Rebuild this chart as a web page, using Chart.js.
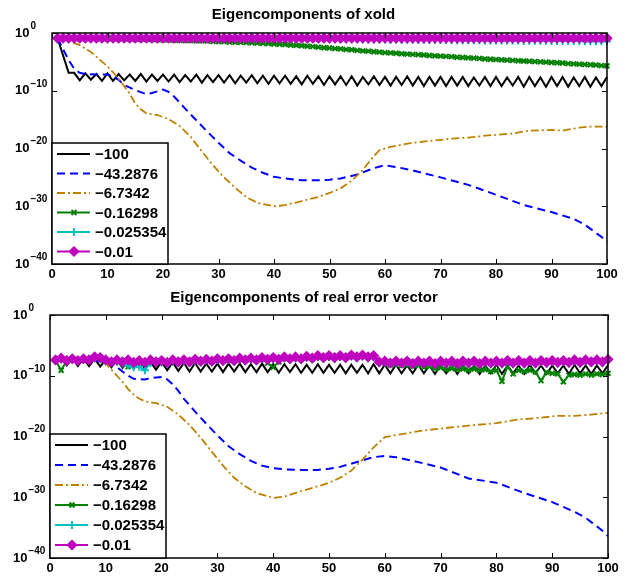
<!DOCTYPE html>
<html>
<head>
<meta charset="utf-8">
<script src="https://cdn.jsdelivr.net/npm/chart.js@4.4.0/dist/chart.umd.min.js"></script>
<style>
  html, body { margin: 0; padding: 0; background: #fff; }
  .panel { position: relative; width: 630px; height: 289px; }
</style>
</head>
<body>
<div class="panel"><canvas id="topChart"></canvas></div>
<div class="panel"><canvas id="bottomChart"></canvas></div>
<script>
// Legend labels (eigenvalues)
const seriesLabels = ['\u2212100', '\u221243.2876', '\u22126.7342', '\u22120.16298', '\u22120.025354', '\u22120.01'];

// Axis ticks
const xTickValues = [0, 10, 20, 30, 40, 50, 60, 70, 80, 90, 100];
const yTickValues = [1e-40, 1e-30, 1e-20, 1e-10, 1e0];
const yTickExponents = ['\u221240', '\u221230', '\u221220', '\u221210', '0'];

// ---- Top panel: eigencomponents of xold (log10 of the magnitude) ----
const topBlack = [
  -0.9, -3.9, -6.9, -6.9, -8.2, -7.0, -8.1, -7.1, -8.3, -7.0,
  -8.3, -7.1, -8.2, -7.2, -8.3, -7.1, -8.4, -7.2, -8.3, -7.2,
  -8.4, -7.2, -8.5, -7.3, -8.4, -7.2, -8.6, -7.3, -8.5, -7.3,
  -8.6, -7.3, -8.7, -7.4, -8.6, -7.3, -8.7, -7.4, -8.8, -7.4,
  -8.7, -7.4, -8.8, -7.5, -8.9, -7.4, -8.8, -7.5, -9.0, -7.5,
  -8.9, -7.5, -9.0, -7.5, -9.1, -7.6, -8.9, -7.5, -9.0, -7.6,
  -9.1, -7.6, -9.0, -7.5, -9.1, -7.6, -9.2, -7.6, -9.1, -7.6,
  -9.2, -7.6, -9.1, -7.6, -9.2, -7.7, -9.1, -7.6, -9.2, -7.6,
  -9.2, -7.7, -9.1, -7.6, -9.3, -7.6, -9.2, -7.7, -9.3, -7.6,
  -9.2, -7.6, -9.3, -7.7, -9.2, -7.6, -9.3, -7.7, -9.2, -7.6
];
const topBlueX = [1, 2, 3, 4, 5, 6, 8, 10, 11, 12, 13, 15, 17, 18, 20, 21, 22, 24, 26, 28, 30, 32, 34, 36, 38, 40,
  42, 45, 48, 50, 52, 55, 58, 60, 62, 65, 70, 75, 80, 85, 90, 94, 96, 98, 99, 100];
const topBlue = [-0.9, -2.8, -4.7, -6.2, -6.9, -7.1, -7.2, -7.2, -7.5, -8.1, -9.0, -9.9, -10.6, -10.4, -9.8, -10.2,
  -11.0, -13.1, -15.1, -17.1, -19.0, -20.8, -22.1, -23.3, -24.2, -24.9, -25.2, -25.5, -25.5, -25.4, -25.2, -24.5,
  -23.4, -22.9, -23.2, -23.8, -25.0, -26.3, -28.0, -29.8, -31.0, -32.2, -33.2, -34.6, -35.3, -36.2];
const topGoldX = [1, 3, 5, 7, 8, 10, 11, 12, 13, 14, 15, 16, 17, 19, 21, 23, 25, 27, 29, 31, 33, 35, 37, 40, 42, 45,
  48, 50, 52, 54, 56, 58, 59, 61, 65, 68, 72, 75, 79, 83, 86, 90, 92, 95, 97, 100];
const topGold = [-0.9, -1.4, -2.1, -3.3, -4.1, -5.8, -6.8, -7.9, -9.2, -10.5, -12.2, -13.2, -13.9, -14.2, -14.9,
  -16.1, -18.0, -20.5, -22.9, -25.0, -26.8, -28.4, -29.4, -30.0, -29.8, -29.1, -28.4, -27.7, -26.9, -25.6, -23.7,
  -21.3, -20.3, -19.7, -19.0, -18.7, -18.3, -18.1, -17.7, -17.4, -16.9, -16.8, -16.9, -16.4, -16.2, -16.2];
const topGreen = [
  -0.9, -0.9, -0.9, -0.9, -0.95, -0.95, -0.95, -1.0, -1.0, -1.0,
  -1.0, -1.05, -1.05, -1.05, -1.1, -1.1, -1.1, -1.15, -1.15, -1.2,
  -1.2, -1.25, -1.25, -1.3, -1.3, -1.35, -1.35, -1.4, -1.45, -1.5,
  -1.5, -1.55, -1.6, -1.6, -1.65, -1.7, -1.75, -1.8, -1.85, -1.9,
  -1.95, -2.0, -2.1, -2.15, -2.2, -2.3, -2.35, -2.45, -2.55, -2.6,
  -2.7, -2.75, -2.85, -2.9, -3.0, -3.1, -3.15, -3.25, -3.3, -3.4,
  -3.45, -3.5, -3.6, -3.65, -3.7, -3.75, -3.8, -3.9, -3.95, -4.0,
  -4.05, -4.1, -4.2, -4.25, -4.3, -4.35, -4.4, -4.5, -4.55, -4.6,
  -4.65, -4.7, -4.75, -4.8, -4.85, -4.9, -4.95, -5.0, -5.05, -5.1,
  -5.15, -5.2, -5.3, -5.35, -5.4, -5.45, -5.5, -5.55, -5.65, -5.7
];
const topCyan = [
  -0.9, -0.9, -0.9, -0.9, -0.9, -0.9, -0.9, -0.9, -0.9, -0.9,
  -0.9, -0.9, -0.9, -0.9, -0.9, -0.9, -0.9, -0.9, -0.9, -0.9,
  -0.9, -0.9, -0.9, -0.92, -0.92, -0.92, -0.93, -0.93, -0.94, -0.94,
  -0.95, -0.95, -0.96, -0.96, -0.97, -0.97, -0.98, -0.98, -0.99, -1.0,
  -1.0, -1.01, -1.02, -1.02, -1.03, -1.04, -1.05, -1.05, -1.06, -1.07,
  -1.08, -1.08, -1.09, -1.1, -1.1, -1.11, -1.12, -1.13, -1.13, -1.14,
  -1.15, -1.16, -1.16, -1.17, -1.18, -1.19, -1.19, -1.2, -1.21, -1.22,
  -1.22, -1.23, -1.24, -1.25, -1.25, -1.26, -1.27, -1.28, -1.28, -1.29,
  -1.3, -1.31, -1.31, -1.32, -1.33, -1.34, -1.34, -1.35, -1.36, -1.37,
  -1.37, -1.38, -1.39, -1.4, -1.4, -1.41, -1.42, -1.43, -1.43, -1.44
];
const topMagenta = [
  -0.9, -0.9, -0.9, -0.9, -0.9, -0.9, -0.9, -0.9, -0.9, -0.9,
  -0.9, -0.9, -0.9, -0.9, -0.9, -0.9, -0.9, -0.9, -0.9, -0.9,
  -0.9, -0.9, -0.9, -0.9, -0.9, -0.9, -0.9, -0.9, -0.9, -0.9,
  -0.9, -0.9, -0.9, -0.9, -0.9, -0.9, -0.9, -0.9, -0.9, -0.9,
  -0.9, -0.9, -0.9, -0.9, -0.9, -0.9, -0.9, -0.9, -0.9, -0.9,
  -0.9, -0.9, -0.9, -0.9, -0.9, -0.9, -0.9, -0.9, -0.9, -0.9,
  -0.9, -0.9, -0.9, -0.9, -0.9, -0.9, -0.9, -0.9, -0.9, -0.9,
  -0.9, -0.9, -0.9, -0.9, -0.9, -0.9, -0.9, -0.9, -0.9, -0.9,
  -0.9, -0.9, -0.9, -0.9, -0.9, -0.9, -0.9, -0.9, -0.9, -0.9,
  -0.9, -0.9, -0.9, -0.9, -0.9, -0.9, -0.9, -0.9, -0.9, -0.9
];

// ---- Bottom panel: eigencomponents of real error vector ----
const botBlack = [
  -7.3, -7.1, -8.3, -7.1, -8.4, -7.2, -8.4, -7.2, -8.5, -7.3,
  -8.6, -7.4, -8.7, -7.5, -8.8, -7.6, -8.9, -7.7, -9.0, -7.7,
  -9.1, -7.8, -9.2, -7.9, -9.3, -7.9, -9.3, -8.0, -9.3, -8.0,
  -9.4, -8.0, -9.3, -8.0, -9.4, -8.1, -9.4, -8.0, -9.4, -8.1,
  -9.5, -8.1, -9.4, -8.1, -9.5, -8.2, -9.5, -8.1, -9.5, -8.2,
  -9.5, -8.2, -9.6, -8.2, -9.5, -8.2, -9.6, -8.1, -9.6, -8.2,
  -9.6, -8.2, -9.6, -8.3, -9.6, -8.2, -9.6, -8.3, -9.7, -8.2,
  -9.6, -8.3, -9.7, -8.2, -9.6, -8.3, -9.7, -8.3, -9.6, -8.2,
  -9.7, -8.3, -9.6, -8.3, -9.7, -8.2, -9.6, -8.3, -9.7, -8.3,
  -9.6, -8.3, -9.7, -8.2, -9.6, -8.3, -9.7, -8.3, -9.6, -8.3
];
const botBlueX = [1, 3, 5, 7, 9, 11, 12, 13, 14, 15, 17, 18, 20, 21, 22, 23, 24, 26, 28, 30, 32, 34, 36, 38, 40, 42,
  45, 48, 50, 52, 55, 58, 60, 62, 65, 70, 75, 80, 85, 90, 94, 96, 98, 99, 100];
const botBlue = [-6.9, -7.2, -7.4, -7.5, -7.6, -7.8, -8.6, -9.3, -10.0, -10.5, -10.6, -10.4, -10.2, -10.6, -11.4,
  -12.5, -13.8, -15.9, -17.9, -19.8, -21.6, -22.9, -24.0, -24.8, -25.2, -25.4, -25.5, -25.5, -25.3, -25.0, -24.2,
  -23.4, -23.2, -23.4, -24.0, -25.1, -26.9, -27.6, -29.3, -30.8, -32.4, -33.4, -34.8, -35.5, -36.4];
const botGoldX = [1, 5, 9, 10, 11, 12, 13, 14, 15, 16, 17, 19, 21, 23, 25, 27, 29, 31, 33, 35, 37, 40, 42, 45, 48,
  50, 52, 54, 56, 58, 60, 63, 67, 70, 75, 80, 84, 87, 91, 94, 97, 100];
const botGold = [-7.4, -7.5, -7.6, -8.0, -9.0, -10.0, -11.0, -12.2, -13.1, -13.8, -14.2, -14.5, -15.1, -16.4, -18.1,
  -20.2, -22.5, -24.8, -26.8, -28.2, -29.3, -30.1, -29.9, -29.0, -28.2, -27.6, -26.8, -25.6, -23.8, -21.8, -20.1,
  -19.6, -19.0, -18.7, -18.2, -17.8, -17.2, -17.0, -16.6, -16.6, -16.4, -16.1];
const botGreen = [
  -7.5, -9.1, -7.5, -7.3, -7.6, -7.3, -7.5, -7.0, -7.1, -7.5,
  -7.8, -7.6, -8.0, -8.5, -8.0, -7.6, -7.9, -7.5, -7.8, -7.6,
  -7.9, -7.5, -7.8, -7.5, -7.8, -7.4, -7.7, -7.4, -7.7, -7.3,
  -7.6, -7.3, -7.6, -7.2, -7.5, -7.2, -7.5, -7.3, -7.9, -8.6,
  -7.7, -7.1, -7.3, -7.0, -7.3, -6.9, -7.2, -6.8, -7.1, -6.8,
  -7.1, -6.8, -7.1, -6.7, -7.0, -6.7, -7.0, -6.8, -7.8, -7.9,
  -8.2, -8.0, -8.3, -8.1, -8.4, -8.3, -8.6, -8.5, -8.8, -8.7,
  -9.0, -8.8, -9.0, -8.9, -9.1, -8.9, -9.1, -9.0, -9.3, -9.1,
  -10.9, -8.5, -9.7, -9.1, -9.3, -9.1, -9.4, -10.8, -9.4, -9.6,
  -9.7, -11.0, -9.9, -9.8, -9.9, -9.7, -9.9, -9.7, -9.8, -9.6
];
const botCyan = [
  -7.5, -7.3, -7.6, -7.3, -7.6, -7.3, -7.5, -7.1, -7.2, -7.5,
  -7.9, -7.7, -8.0, -8.3, -8.6, -8.5, -9.1, -7.9, -7.9, -7.8,
  -8.0, -7.7, -7.9, -7.6, -7.9, -7.5, -7.8, -7.5, -7.8, -7.4,
  -7.7, -7.4, -7.7, -7.3, -7.6, -7.3, -7.6, -7.2, -7.5, -7.2,
  -7.5, -7.1, -7.4, -7.1, -7.4, -7.0, -7.3, -6.9, -7.2, -6.9,
  -7.2, -6.9, -7.2, -6.8, -7.1, -6.8, -7.1, -6.9, -7.9, -7.8,
  -8.1, -7.8, -8.1, -7.8, -8.2, -7.8, -8.1, -7.8, -8.2, -7.8,
  -8.1, -7.8, -8.2, -7.8, -8.1, -7.8, -8.2, -7.8, -8.1, -7.8,
  -8.1, -7.7, -8.1, -7.7, -8.1, -7.7, -8.1, -7.7, -8.0, -7.7,
  -8.0, -7.7, -8.0, -7.6, -8.0, -7.6, -7.9, -7.6, -7.9, -7.5
];
const botMagenta = [
  -7.4, -7.1, -7.5, -7.2, -7.5, -7.2, -7.4, -6.9, -7.0, -7.4,
  -7.7, -7.4, -7.7, -7.4, -7.8, -7.5, -7.8, -7.4, -7.7, -7.5,
  -7.8, -7.4, -7.7, -7.4, -7.7, -7.3, -7.6, -7.3, -7.6, -7.2,
  -7.5, -7.2, -7.5, -7.1, -7.4, -7.1, -7.4, -7.0, -7.3, -7.0,
  -7.3, -6.9, -7.2, -6.9, -7.2, -6.8, -7.1, -6.7, -7.0, -6.7,
  -7.0, -6.7, -7.0, -6.6, -6.9, -6.6, -6.9, -6.7, -7.7, -7.6,
  -7.9, -7.6, -7.9, -7.6, -8.0, -7.6, -7.9, -7.6, -8.0, -7.6,
  -7.9, -7.6, -8.0, -7.6, -7.9, -7.6, -8.0, -7.6, -7.9, -7.6,
  -7.9, -7.5, -7.9, -7.5, -7.9, -7.5, -7.9, -7.5, -7.8, -7.5,
  -7.8, -7.5, -7.8, -7.4, -7.8, -7.4, -7.7, -7.4, -7.7, -7.3
];

// Line / marker styles, one per series (same order as seriesLabels)
const SERIES_STYLES = [
  { color: '#000000', dash: [], width: 2, pointStyle: false, radius: 0 },
  { color: '#0000ff', dash: [8, 5], width: 2, pointStyle: false, radius: 0 },
  { color: '#bf8000', dash: [8, 3, 2, 3], width: 1.8, pointStyle: false, radius: 0 },
  { color: '#008000', dash: [], width: 2, pointStyle: 'crossRot', radius: 3.5 },
  { color: '#00bfbf', dash: [], width: 2, pointStyle: 'cross', radius: 4 },
  { color: '#bf00bf', dash: [], width: 2, pointStyle: 'rectRot', radius: 4.2 }
];

const FONT = 'Liberation Sans, Arial, Helvetica, sans-serif';

// Convert exponent lists to {x, y} points
function fromExponents(exps) {
  return exps.map((e, i) => ({ x: i + 1, y: Math.pow(10, e) }));
}
function fromPairs(xs, exps) {
  return xs.map((x, i) => ({ x: x, y: Math.pow(10, exps[i]) }));
}

function buildDatasets(seriesData) {
  return seriesData.map((data, i) => {
    const s = SERIES_STYLES[i];
    return {
      label: seriesLabels[i],
      data: data,
      borderColor: s.color,
      backgroundColor: s.color,
      borderWidth: s.width,
      borderDash: s.dash,
      pointStyle: s.pointStyle,
      pointRadius: s.radius,
      pointBorderWidth: 2,
      pointBorderColor: s.color,
      pointBackgroundColor: s.color,
      tension: 0,
      clip: false,
      order: seriesData.length - 1 - i // later series drawn on top, as in MATLAB
    };
  });
}

// Draws the MATLAB-style box, inward ticks, 10^n labels and the legend
const matlabAxesPlugin = {
  id: 'matlabAxes',
  afterDatasetsDraw(chart, args, opts) {
    const { ctx, chartArea: a, scales } = chart;
    const xs = scales.x, ys = scales.y;
    ctx.save();
    ctx.setLineDash([]);
    ctx.strokeStyle = '#000';

    // axis box
    ctx.lineWidth = 1.5;
    ctx.strokeRect(a.left, a.top, a.right - a.left, a.bottom - a.top);

    // inward tick marks
    ctx.lineWidth = 1;
    ctx.beginPath();
    xTickValues.forEach(v => {
      const px = Math.round(xs.getPixelForValue(v)) + 0.5;
      ctx.moveTo(px, a.bottom); ctx.lineTo(px, a.bottom - 5);
      ctx.moveTo(px, a.top); ctx.lineTo(px, a.top + 5);
    });
    yTickValues.forEach(v => {
      const py = Math.round(ys.getPixelForValue(v)) + 0.5;
      ctx.moveTo(a.left, py); ctx.lineTo(a.left + 5, py);
      ctx.moveTo(a.right, py); ctx.lineTo(a.right - 5, py);
    });
    ctx.stroke();

    // y tick labels: 10 with superscript exponent
    ctx.fillStyle = '#000';
    ctx.textAlign = 'left';
    ctx.textBaseline = 'middle';
    yTickValues.forEach((v, i) => {
      const py = ys.getPixelForValue(v);
      const lx = a.left - opts.labelOffset;
      ctx.font = 'bold 13px ' + FONT;
      ctx.fillText('10', lx, py);
      const w = ctx.measureText('10').width;
      ctx.font = 'bold 10px ' + FONT;
      ctx.fillText(yTickExponents[i], lx + w + 1, py - 7);
    });

    // legend box in lower-left corner
    const n = chart.data.datasets.length;
    const boxH = n * opts.rowH + 4;
    const x0 = a.left, y0 = a.bottom - boxH;
    ctx.fillStyle = '#fff';
    ctx.fillRect(x0, y0, opts.legendW, boxH);
    ctx.lineWidth = 1.5;
    ctx.strokeRect(x0, y0, opts.legendW, boxH);

    chart.data.datasets.forEach((ds, i) => {
      const ry = y0 + 11 + i * opts.rowH;
      const s = SERIES_STYLES[i];
      ctx.strokeStyle = s.color;
      ctx.fillStyle = s.color;
      ctx.lineWidth = s.width;
      ctx.setLineDash(s.dash);
      ctx.beginPath();
      ctx.moveTo(x0 + 5, ry);
      ctx.lineTo(x0 + 38, ry);
      ctx.stroke();
      ctx.setLineDash([]);
      if (s.pointStyle) {
        ctx.lineWidth = 2;
        Chart.helpers.drawPoint(ctx, { pointStyle: s.pointStyle, rotation: 0, radius: s.radius, borderWidth: 2 }, x0 + 22, ry);
      }
      ctx.fillStyle = '#000';
      ctx.font = 'bold 15px ' + FONT;
      ctx.textBaseline = 'middle';
      ctx.fillText(ds.label, x0 + 43, ry + 1);
    });
    ctx.restore();
  }
};

function makeChart(canvasId, title, seriesData, cfg) {
  const ctx = document.getElementById(canvasId).getContext('2d');
  return new Chart(ctx, {
    type: 'line',
    data: { datasets: buildDatasets(seriesData) },
    plugins: [matlabAxesPlugin],
    options: {
      responsive: true,
      maintainAspectRatio: false,
      animation: false,
      layout: { padding: { left: 0, right: cfg.rightPad, top: 0, bottom: 0 } },
      plugins: {
        legend: { display: false },
        tooltip: { enabled: false },
        title: {
          display: true,
          text: title,
          color: '#000',
          font: { family: FONT, size: 15, weight: 'bold' },
          padding: cfg.titlePad
        },
        matlabAxes: { rowH: cfg.rowH, legendW: 116, labelOffset: 37 }
      },
      scales: {
        x: {
          type: 'linear',
          min: 0,
          max: 100,
          grid: { display: false, drawTicks: false },
          border: { display: false },
          ticks: {
            stepSize: 10,
            padding: 3,
            color: '#000',
            font: { family: FONT, size: 13, weight: 'bold' },
            maxRotation: 0
          },
          afterFit: function(scale) { scale.height = cfg.xAxisH; }
        },
        y: {
          type: 'logarithmic',
          min: 1e-40,
          max: 1,
          grid: { display: false, drawTicks: false },
          border: { display: false },
          ticks: { display: false },
          afterBuildTicks: function(scale) {
            scale.ticks = yTickValues.map(v => ({ value: v }));
          },
          afterFit: function(scale) { scale.width = cfg.yAxisW; }
        }
      }
    }
  });
}

makeChart('topChart', 'Eigencomponents of xold', [
  fromExponents(topBlack),
  fromPairs(topBlueX, topBlue),
  fromPairs(topGoldX, topGold),
  fromExponents(topGreen),
  fromExponents(topCyan),
  fromExponents(topMagenta)
], { rightPad: 23, yAxisW: 52, xAxisH: 25, titlePad: { top: 6, bottom: 9 }, rowH: 19.5 });

makeChart('bottomChart', 'Eigencomponents of real error vector', [
  fromExponents(botBlack),
  fromPairs(botBlueX, botBlue),
  fromPairs(botGoldX, botGold),
  fromExponents(botGreen),
  fromExponents(botCyan),
  fromExponents(botMagenta)
], { rightPad: 22, yAxisW: 50, xAxisH: 20, titlePad: { top: 0, bottom: 8 }, rowH: 20 });
</script>
</body>
</html>
